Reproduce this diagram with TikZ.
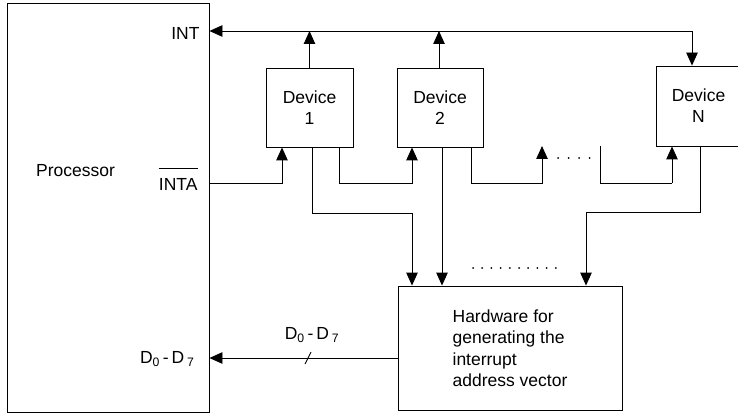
\documentclass[tikz,border=0pt]{standalone}
\usepackage{fontspec}
\setmainfont{Liberation Sans}
\usetikzlibrary{arrows.meta}
\begin{document}
\begin{tikzpicture}[x=1pt,y=-1pt, line width=0.9pt,
  txt/.style={font=\fontsize{17.5}{21}\selectfont},
  box/.style={draw, rectangle, inner sep=0pt, align=center, txt},
  lbl/.style={inner sep=0pt, txt},
  arr/.style={-{Triangle[length=13pt,width=11.5pt]}},
  darr/.style={{Triangle[length=13pt,width=11.5pt]}-{Triangle[length=13pt,width=11.5pt]}},
  dot/.style={circle, fill, inner sep=0pt, minimum size=2pt}]
\useasboundingbox (0,0) rectangle (738,414);
% blocks
\node[box, minimum width=202pt, minimum height=409pt] (proc) at (108,207.5) {};
\node[lbl] (plabel) at (75.5,171) {Processor};
\node[lbl, anchor=east] (intl) at (200,33) {INT};
\node[lbl, anchor=east] (inta) at (198,184) {INTA};
\draw[line width=0.8pt] ([yshift=9pt]inta.north west) -- ([yshift=9pt]inta.north east);
\node[box, minimum width=87pt, minimum height=79pt] (d1) at (309.5,107.5) {Device\\1};
\node[box, minimum width=86pt, minimum height=79pt] (d2) at (440,107.5) {Device\\2};
\node[box, minimum width=85pt, minimum height=80pt] (dN) at (698.5,106) {Device\\N};
\node[box, minimum width=224pt, minimum height=124pt, align=left, font=\fontsize{17.5}{21.5}\selectfont] (hw) at (510,348)
  {Hardware for\\generating the\\interrupt\\address vector};
% INT bus
\coordinate (intR) at (692,31);
\draw[darr] (proc.east |- intR) -- (intR) -- (dN.north -| intR);
\draw[arr] (d1.north) -- (d1.north |- intR);
\draw[arr] (d2.north -| 439,0) -- (439,31);
% INTA daisy chain
\draw[arr] (proc.east |- 0,183) -- (282,183) -- (d1.south -| 282,0);
\draw[arr] (d1.south -| 339,0) -- (339,183) -- (412,183) -- (d2.south -| 412,0);
\coordinate (gapL) at (542,146);
\coordinate (gapR) at (600,146);
\draw[arr] (d2.south -| 471,0) -- (471,183) -- (542,183) -- (gapL);
\draw (gapR) -- (600,183) -- (672,183);
\draw[arr] (672,183) -- (dN.south -| 672,0);
\foreach \x [count=\i] in {558,568.5,579,589.5} \node[dot] (ga\i) at (\x,158) {};
% data lines
\draw[arr] (d1.south -| 312,0) -- (312,213) -- (412,213) -- (hw.north -| 412,0);
\draw[arr] (d2.south -| 442,0) -- (hw.north -| 442,0);
\draw[arr] (dN.south -| 700,0) -- (700,212) -- (586,212) -- (hw.north -| 586,0);
\foreach \i in {0,...,9} \node[dot] (hd\i) at (473+9.2*\i,268) {};
% D0-D7 bus
\draw[arr] (hw.west |- 0,358) -- (proc.east |- 0,358);
\draw (305,364) -- (311,352);
\node[lbl] (busl) at (312,335) {D\textsubscript{0}\,-\,D\,\textsubscript{7}};
\node[lbl, anchor=east] (dl) at (195,359) {D\textsubscript{0}\,-\,D\,\textsubscript{7}};
\end{tikzpicture}
\end{document}
